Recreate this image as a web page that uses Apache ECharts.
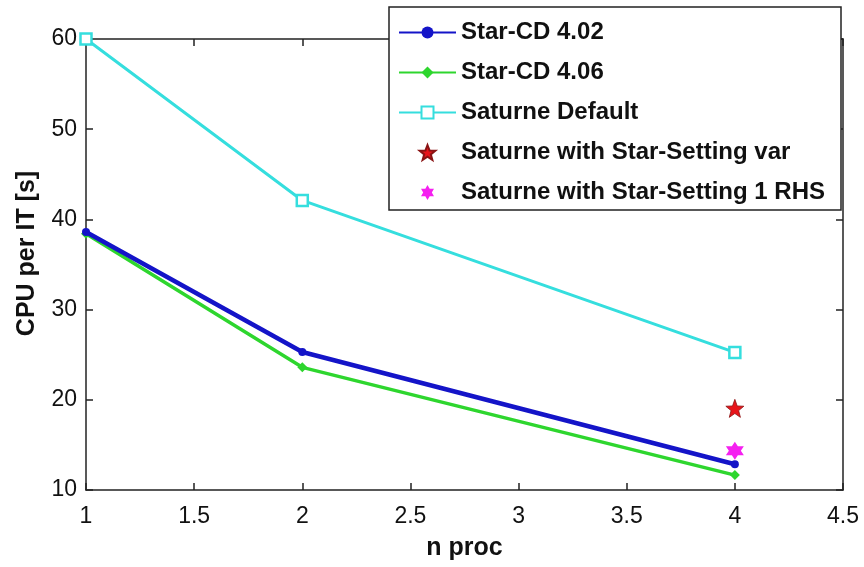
<!DOCTYPE html>
<html>
<head>
<meta charset="utf-8">
<script src="https://cdn.jsdelivr.net/npm/echarts@6/dist/echarts.min.js"></script>
<style>
html,body{margin:0;padding:0;background:#fff;}
#chart{width:864px;height:567px;}
</style>
</head>
<body>
<div id="chart"></div>
<script>
// ---- data ----
const nproc = [1, 2, 4];
const starCD402 = [38.6, 25.3, 12.85];
const starCD406 = [38.4, 23.6, 11.65];
const saturneDefault = [60, 42.1, 25.25];
const settingX = [4];
const settingVar = [19.05];
const setting1RHS = [14.35];
const seriesNames = ['Star-CD 4.02', 'Star-CD 4.06', 'Saturne Default',
  'Saturne with Star-Setting var', 'Saturne with Star-Setting 1 RHS'];
const xTickInterval = 0.5, xMin = 1, xMax = 4.5;
const yTickInterval = 10, yMin = 10, yMax = 60;

function pairs(xs, ys) { return xs.map((x, i) => [x, ys[i]]); }

function starPath(points, inner) {
  const pts = [];
  for (let i = 0; i < points * 2; i++) {
    const r = i % 2 === 0 ? 1 : inner;
    const a = -Math.PI / 2 + i * Math.PI / points;
    pts.push(((1 + r * Math.cos(a)) * 50).toFixed(2) + ' ' + ((1 + r * Math.sin(a)) * 50).toFixed(2));
  }
  return 'path://M' + pts.join(' L') + ' Z';
}
const pentagram = starPath(5, 0.42);
const hexagram = starPath(6, 0.577);

const FONT = '"Liberation Sans", Arial, Helvetica, sans-serif';
const axisLine = { show: true, lineStyle: { color: '#222', width: 1.5 } };
const axisTick = { show: true, inside: true, length: 7, lineStyle: { color: '#222', width: 1.5 } };

const chart = echarts.init(document.getElementById('chart'));
chart.setOption({
  animation: false,
  backgroundColor: '#fff',
  textStyle: { fontFamily: FONT },
  grid: { left: 86, top: 39, right: 21, bottom: 77, containLabel: false },
  xAxis: [{
    type: 'value', min: xMin, max: xMax, interval: xTickInterval, position: 'bottom',
    axisLine: axisLine, axisTick: axisTick, splitLine: { show: false },
    axisLabel: { fontSize: 23, color: '#111', margin: 15, fontFamily: FONT },
    name: 'n proc', nameLocation: 'middle', nameGap: 46,
    nameTextStyle: { fontSize: 25, fontWeight: 'bold', color: '#111', fontFamily: FONT }
  }, {
    type: 'value', min: xMin, max: xMax, interval: xTickInterval, position: 'top',
    axisLine: axisLine, axisTick: axisTick, splitLine: { show: false }, axisLabel: { show: false }
  }],
  yAxis: [{
    type: 'value', min: yMin, max: yMax, interval: yTickInterval, position: 'left',
    axisLine: axisLine, axisTick: axisTick, splitLine: { show: false },
    axisLabel: { fontSize: 23, color: '#111', margin: 9, fontFamily: FONT },
    name: 'CPU per IT [s]', nameLocation: 'middle', nameGap: 46,
    nameTextStyle: { fontSize: 25, fontWeight: 'bold', color: '#111', fontFamily: FONT, padding: [0, 0, 0, 22] }
  }, {
    type: 'value', min: yMin, max: yMax, interval: yTickInterval, position: 'right',
    axisLine: axisLine, axisTick: axisTick, splitLine: { show: false }, axisLabel: { show: false }
  }],
  graphic: [{
    type: 'rect', z: 10, silent: true,
    shape: { x: 389, y: 7, width: 452, height: 203 },
    style: { fill: '#fff', stroke: '#222', lineWidth: 1.5 }
  }],
  legend: {
    z: 20, orient: 'vertical', left: 398, top: 20, padding: 0,
    itemWidth: 57, itemHeight: 15, itemGap: 15,
    textStyle: { fontSize: 24, fontWeight: 'bold', color: '#111', lineHeight: 25, fontFamily: FONT },
    data: seriesNames
  },
  series: [{
    name: seriesNames[2], type: 'line', data: pairs(nproc, saturneDefault),
    symbol: 'rect', symbolSize: 11, showAllSymbol: true,
    lineStyle: { color: '#35dede', width: 3 },
    itemStyle: { color: '#fff', borderColor: '#35dede', borderWidth: 2.5 }, z: 3
  }, {
    name: seriesNames[1], type: 'line', data: pairs(nproc, starCD406),
    symbol: 'diamond', symbolSize: 10,
    lineStyle: { color: '#2ed62e', width: 3.5 },
    itemStyle: { color: '#2ed62e' }, z: 3
  }, {
    name: seriesNames[0], type: 'line', data: pairs(nproc, starCD402),
    symbol: 'circle', symbolSize: 8,
    lineStyle: { color: '#1414c8', width: 4.5 },
    itemStyle: { color: '#1414c8' }, z: 4
  }, {
    name: seriesNames[3], type: 'scatter', data: pairs(settingX, settingVar),
    symbol: pentagram, symbolSize: 18,
    itemStyle: { color: '#e8141a', borderColor: '#8a1414', borderWidth: 0.8, opacity: 1 }, z: 5
  }, {
    name: seriesNames[4], type: 'scatter', data: pairs(settingX, setting1RHS),
    symbol: hexagram, symbolSize: 18,
    itemStyle: { color: '#f520f0', opacity: 1 }, z: 5
  }]
});
</script>
</body>
</html>
